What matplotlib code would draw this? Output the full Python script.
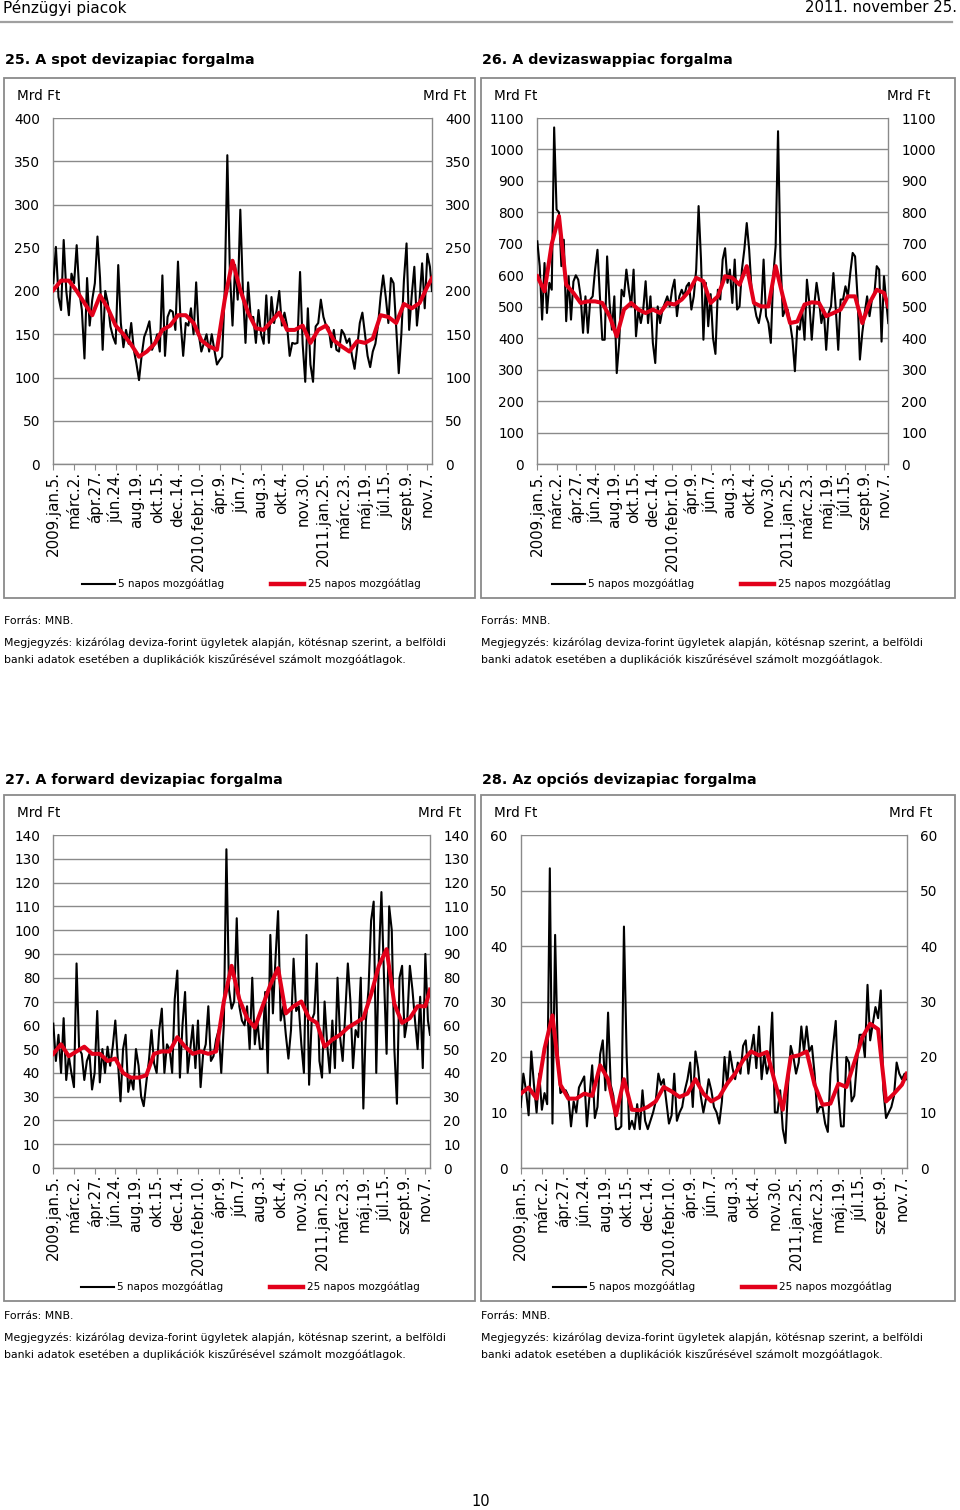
"""Devizapiaci forgalom: négy panel a Pénzügyi piacok oldalról."""

import matplotlib

matplotlib.use("Agg")
import matplotlib.pyplot as plt
import numpy as np
from matplotlib.lines import Line2D
from matplotlib.patches import Rectangle

plt.rcParams["font.family"] = ["DejaVu Sans"]

W, H = 960, 1510

# x axis: trading days from 2009.jan.5., one label every 40 trading days
tick_labels = [
    "2009.jan.5.", "márc.2.", "ápr.27.", "jún.24.", "aug.19.", "okt.15.",
    "dec.14.", "2010.febr.10.", "ápr.9.", "jún.7.", "aug.3.", "okt.4.",
    "nov.30.", "2011.jan.25.", "márc.23.", "máj.19.", "júl.15.", "szept.9.",
    "nov.7.",
]
tick_days = np.arange(0, 721, 40)
last_day = 729
# sampling of the values (every 5th / 15th trading day)
days_5 = np.r_[np.arange(0, 726, 5), last_day]
days_25 = np.r_[np.arange(0, 721, 15), last_day]

# 25. spot devizapiac, Mrd Ft
spot_5 = [
    209, 251, 193, 178, 259, 200, 172, 220, 209, 253,
    200, 178, 122, 215, 160, 190, 209, 263, 215, 132,
    200, 186, 159, 147, 139, 230, 163, 135, 155, 139,
    163, 132, 116, 97, 125, 147, 155, 165, 132, 139,
    150, 130, 218, 125, 170, 178, 176, 155, 234, 165,
    125, 163, 160, 180, 150, 210, 150, 130, 140, 150,
    130, 150, 132, 115, 120, 124, 200, 357, 220, 160,
    230, 190, 294, 200, 140, 210, 170, 170, 140, 178,
    150, 139, 195, 140, 193, 163, 178, 200, 160, 175,
    160, 125, 140, 139, 140, 222, 139, 95, 180, 115,
    95, 159, 163, 190, 170, 160, 158, 135, 155, 132,
    130, 155, 150, 140, 145, 125, 110, 135, 163, 175,
    150, 125, 112, 130, 139, 160, 193, 218, 193, 163,
    215, 209, 159, 105, 150, 213, 255, 155, 195, 228,
    160, 190, 232, 180, 243, 228, 200,
]
spot_25 = [
    201, 212, 212, 200, 186, 172, 195, 180, 160, 150,
    138, 124, 130, 139, 155, 160, 172, 172, 163, 143,
    136, 132, 190, 235, 201, 175, 157, 155, 165, 175,
    155, 155, 160, 140, 155, 160, 143, 136, 130, 142,
    140, 145, 172, 170, 163, 185, 180, 186, 205, 215,
]

# 26. devizaswappiac, Mrd Ft
swap_5 = [
    708, 629, 459, 639, 480, 576, 554, 1070, 809, 800,
    629, 713, 454, 597, 459, 580, 600, 586, 533, 417,
    533, 417, 523, 533, 618, 681, 533, 395, 395, 660,
    512, 427, 533, 289, 385, 554, 533, 618, 554, 501,
    618, 406, 491, 448, 491, 581, 448, 533, 385, 321,
    501, 448, 491, 512, 533, 501, 554, 586, 470, 533,
    554, 533, 565, 576, 491, 533, 618, 820, 650, 395,
    576, 438, 540, 400, 350, 554, 523, 650, 686, 576,
    618, 512, 650, 491, 501, 618, 682, 766, 682, 554,
    512, 470, 448, 491, 650, 470, 448, 385, 597, 692,
    1058, 660, 470, 491, 491, 448, 395, 295, 438, 427,
    491, 395, 586, 512, 395, 501, 576, 523, 448, 491,
    363, 480, 501, 607, 491, 363, 523, 523, 565, 533,
    607, 671, 660, 533, 332, 417, 480, 533, 470, 523,
    539, 629, 618, 389, 597, 512, 448,
]
swap_25 = [
    597, 549, 700, 788, 570, 544, 512, 517, 517, 512,
    470, 406, 491, 512, 491, 480, 491, 480, 512, 507,
    523, 549, 592, 581, 512, 533, 597, 592, 570, 629,
    512, 501, 501, 629, 533, 448, 453, 507, 514, 512,
    470, 480, 491, 533, 533, 448, 512, 554, 544, 501,
]

# 27. forward devizapiac, Mrd Ft
fwd_5 = [
    60.7, 45, 56, 40, 63, 37, 47, 40, 34, 86,
    50, 48, 37, 45, 48, 33, 40, 66, 36, 50,
    40, 51, 43, 51, 62, 45, 28, 50, 56, 32,
    38, 33, 50, 43, 30, 26, 36, 45, 58, 44,
    40, 58, 67, 40, 52, 50, 40, 71, 83, 38,
    60, 74, 40, 50, 60, 42, 62, 34, 48, 52,
    68, 45, 47, 54, 58, 40, 60, 134, 75, 67,
    70, 105, 68, 62, 60, 68, 50, 80, 52, 62,
    50, 50, 74, 40, 98, 65, 88, 108, 62, 68,
    56, 46, 58, 88, 66, 68, 52, 40, 98, 35,
    62, 65, 86, 45, 38, 70, 52, 40, 62, 42,
    80, 55, 45, 65, 86, 70, 42, 58, 55, 80,
    25, 62, 75, 104, 112, 40, 88, 116, 80, 48,
    110, 100, 50, 27, 80, 85, 55, 62, 85, 75,
    62, 50, 72, 42, 90, 62, 56,
]
fwd_25 = [
    48, 52, 47, 49, 51, 48, 48, 45, 46, 40,
    38, 38, 39, 48, 49, 49, 55, 51, 48, 49,
    48, 49, 70, 85, 71, 63, 59, 68, 77, 84,
    65, 68, 70, 63, 61, 51, 54, 56, 59, 61,
    63, 73, 85, 92, 69, 61, 63, 68, 68, 75,
]

# 28. opciós devizapiac, Mrd Ft
opt_5 = [
    11, 17, 14, 9.5, 21, 15, 10, 17, 10.5, 13.5,
    11.5, 54, 8, 42, 20.5, 13.5, 14, 14, 13, 7.5,
    12, 10, 14.5, 15.5, 16.5, 7.5, 13, 18.5, 9, 11,
    20.5, 23, 14, 28, 15, 13, 7, 7, 7.5, 43.5,
    20.5, 7, 8.5, 7, 11.5, 7, 14, 8.5, 7, 8.5,
    10, 12, 17, 15, 16, 12, 8, 9.5, 17, 8.5,
    10, 11, 14, 16, 19, 11, 21, 18, 13, 10,
    12.5, 16, 14, 11, 10, 8, 12, 20, 15, 21,
    18, 16, 19, 17, 22, 23, 17, 21, 24, 18,
    25.5, 16, 20.5, 17, 19, 28, 10, 10, 14, 7,
    4.5, 15, 22, 20, 17, 19, 25.5, 21, 25.5, 21,
    22, 17, 10, 11, 11, 8, 6.5, 17, 22, 26.5,
    13, 7.5, 7.5, 20, 19, 12, 13, 19, 24, 24,
    20, 33, 23, 26, 29, 27, 32, 14, 9, 10,
    11, 13, 19, 17, 16, 17, 16,
]
opt_25 = [
    13.4, 14.5, 12.5, 21.5, 27.5, 15, 12.5, 12.5, 13.4, 13,
    18.5, 16, 9.5, 16, 10.5, 10.4, 11, 12, 14.6, 13.8,
    12.8, 13.4, 16, 13.4, 12, 12.8, 15.2, 17, 19.4, 21,
    20.3, 20.9, 15.5, 10.5, 20, 20.3, 21, 15, 11.4, 11.6,
    15.2, 14.6, 19, 23.5, 26, 25, 12, 13.4, 15, 17,
]

legend_labels = ["5 napos mozgóátlag", "25 napos mozgóátlag"]
source_text = "Forrás: MNB."
note_lines = [
    "Megjegyzés: kizárólag deviza-forint ügyletek alapján, kötésnap szerint, a belföldi",
    "banki adatok esetében a duplikációk kiszűrésével számolt mozgóátlagok.",
]

GRAY = "#8a8a8a"
RED = "#e2001a"

fig = plt.figure(figsize=(W / 100, H / 100), dpi=100)


def fx(px):
    return px / W


def fy(py):
    return 1 - py / H


def px_rect(left, top, right, bottom):
    return [fx(left), fy(bottom), (right - left) / W, (bottom - top) / H]


def draw_panel(box, plot, title, title_y, notes_y, v5, v25, ymax, ystep,
               legend_cx, unit_right):
    bl, bt, br, bb = box
    fig.add_artist(Rectangle((fx(bl), fy(bb)), (br - bl) / W, (bb - bt) / H,
                             transform=fig.transFigure, fill=False,
                             edgecolor=GRAY, linewidth=1.3))
    fig.text(fx(bl + 1), fy(title_y), title, fontsize=10.3, fontweight="bold",
             ha="left", va="center")
    fig.text(fx(bl + 13), fy(bt + 18), "Mrd Ft", fontsize=9.8,
             ha="left", va="center")
    fig.text(fx(unit_right), fy(bt + 18), "Mrd Ft", fontsize=9.8,
             ha="right", va="center")

    ax = fig.add_axes(px_rect(*plot))
    line5, = ax.plot(days_5, v5, color="black", linewidth=1.5, zorder=3)
    line25, = ax.plot(days_25, v25, color=RED, linewidth=2.9, zorder=4)
    ax.set_xlim(0, last_day)
    ax.set_ylim(0, ymax)
    ax.set_yticks(np.arange(0, ymax + 1, ystep))
    ax.set_xticks(tick_days)
    ax.set_xticklabels(tick_labels, rotation=90, ha="center", va="top")
    ax.grid(True, axis="y", color=GRAY, linewidth=1.0)
    ax.set_axisbelow(True)
    ax.spines["top"].set_visible(False)
    for side in ("left", "right", "bottom"):
        ax.spines[side].set_color(GRAY)
        ax.spines[side].set_linewidth(1.0)
    ax.tick_params(axis="y", left=False, right=False, labelleft=True,
                   labelright=True, labelsize=9.8, pad=6)
    ax.tick_params(axis="x", direction="out", length=4, color=GRAY,
                   labelsize=10.8, pad=1)

    fig.legend([Line2D([], [], color="black", linewidth=1.5),
                Line2D([], [], color=RED, linewidth=3.2)],
               legend_labels, loc="center",
               bbox_to_anchor=(fx(legend_cx), fy(bb - 14)), ncol=2,
               frameon=False, fontsize=7.5, handlelength=3.2,
               handletextpad=0.3, columnspacing=4.5, borderpad=0)

    fig.text(fx(bl), fy(notes_y), source_text, fontsize=7.8,
             ha="left", va="center")
    for k, line in enumerate(note_lines):
        fig.text(fx(bl), fy(notes_y + 22 + 17 * k), line, fontsize=7.8,
                 ha="left", va="center")
    return ax


# page header
fig.text(fx(3), fy(8), "Pénzügyi piacok", fontsize=11, ha="left", va="center")
fig.text(fx(957), fy(8), "2011. november 25.", fontsize=10.7, ha="right",
         va="center")
fig.add_artist(Line2D([0, fx(952)], [fy(22), fy(22)], color="#a0a0a0",
                      linewidth=1.6, transform=fig.transFigure))

draw_panel((4, 78, 475, 598), (53.3, 118, 432, 464),
           "25. A spot devizapiac forgalma", 60, 621,
           spot_5, spot_25, 400, 50, 251, 466)
draw_panel((481, 78, 955, 598), (537.3, 118, 888.3, 464),
           "26. A devizaswappiac forgalma", 60, 621,
           swap_5, swap_25, 1100, 100, 721, 930)
draw_panel((4, 795, 475, 1301), (53.3, 835, 430, 1168),
           "27. A forward devizapiac forgalma", 780, 1316,
           fwd_5, fwd_25, 140, 10, 250, 461)
draw_panel((481, 795, 955, 1301), (520.7, 835, 906.7, 1168),
           "28. Az opciós devizapiac forgalma", 780, 1316,
           opt_5, opt_25, 60, 10, 722, 932)

fig.text(fx(481), fy(1501), "10", fontsize=10.5, ha="center", va="center")

fig.savefig("out.png", dpi=100)
